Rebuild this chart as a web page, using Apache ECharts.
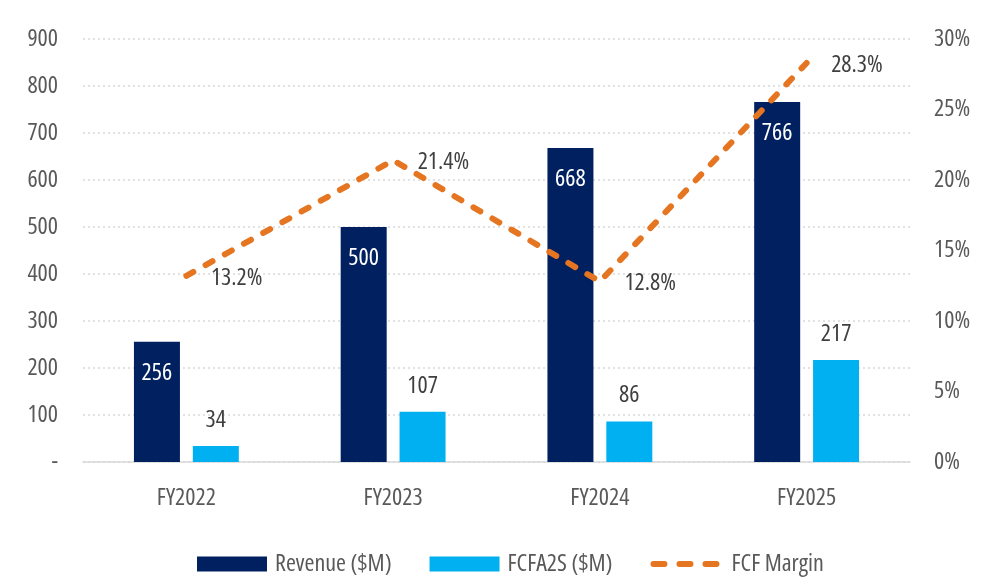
<!DOCTYPE html>
<html>
<head>
<meta charset="utf-8">
<script src="https://cdn.jsdelivr.net/npm/echarts@6/dist/echarts.min.js"></script>
<style>
  html, body { margin: 0; padding: 0; background: #fff; }
  #chart { width: 1000px; height: 588px; }
</style>
</head>
<body>
<div id="chart"></div>
<script>
(function () {
  const categories = ['FY2022', 'FY2023', 'FY2024', 'FY2025'];
  const revenue = [256, 500, 668, 766];
  const fcfa2s = [34, 107, 86, 217];
  const fcfMargin = [13.2, 21.4, 12.8, 28.3];

  // condensed face of Open Sans, close to the original's narrow type
  const font = '"Open Sans", "Noto Sans", sans-serif';
  const stretch = 'condensed';
  const textColor = '#595959';
  const labelColor = '#404040';
  const gridColor = '#d9d9d9';
  const navy = '#002060';
  const sky = '#00b0f0';
  const orange = '#e57520';

  const txt = (size, color) => ({
    color,
    fontSize: size,
    fontFamily: font,
    fontStyle: stretch,
  });

  const chart = echarts.init(document.getElementById('chart'));

  chart.setOption({
    animation: false,
    textStyle: { fontFamily: font, fontStyle: stretch },
    grid: { left: 83, right: 90, top: 39, bottom: 126 },
    legend: {
      top: 547,
      left: 192,
      itemWidth: 70,
      itemHeight: 15,
      itemGap: 38,
      textStyle: Object.assign(txt(24, textColor), { padding: [0, 0, 0, 3] }),
      data: [
        { name: 'Revenue ($M)', icon: 'rect' },
        { name: 'FCFA2S ($M)', icon: 'rect' },
        {
          name: 'FCF Margin',
          itemStyle: { opacity: 0 },
          lineStyle: { type: [11, 15], width: 6, cap: 'round', color: orange },
        },
      ],
    },
    xAxis: {
      type: 'category',
      data: categories,
      axisTick: { show: false },
      axisLine: { lineStyle: { color: gridColor, width: 1.5 } },
      axisLabel: Object.assign(txt(24, textColor), { margin: 24 }),
    },
    yAxis: [
      {
        type: 'value',
        min: 0,
        max: 900,
        interval: 100,
        axisLine: { show: false },
        axisTick: { show: false },
        splitLine: { lineStyle: { color: gridColor, type: [2, 3], width: 1.5 } },
        axisLabel: Object.assign(txt(24, textColor), {
          margin: 25,
          formatter: (v) => (v === 0 ? '-' : String(v)),
        }),
      },
      {
        type: 'value',
        min: 0,
        max: 30,
        interval: 5,
        axisLine: { show: false },
        axisTick: { show: false },
        splitLine: { show: false },
        axisLabel: Object.assign(txt(24, textColor), {
          margin: 24,
          formatter: (v) => v + '%',
        }),
      },
    ],
    series: [
      {
        name: 'Revenue ($M)',
        type: 'bar',
        data: revenue,
        barWidth: 46,
        barGap: '28%',
        itemStyle: { color: navy },
        label: Object.assign(txt(24, '#fff'), {
          show: true,
          position: 'insideTop',
          distance: 19,
        }),
        z: 2,
      },
      {
        name: 'FCFA2S ($M)',
        type: 'bar',
        data: fcfa2s,
        barWidth: 46,
        itemStyle: { color: sky },
        label: Object.assign(txt(24, labelColor), {
          show: true,
          position: 'top',
          distance: 14,
        }),
        z: 2,
      },
      {
        name: 'FCF Margin',
        type: 'line',
        yAxisIndex: 1,
        data: fcfMargin,
        symbol: 'none',
        lineStyle: { color: orange, width: 6, type: [8, 14], cap: 'round' },
        itemStyle: { color: orange },
        z: 5,
      },
      {
        // carries the margin labels only
        name: 'FCF Margin labels',
        type: 'scatter',
        yAxisIndex: 1,
        data: fcfMargin,
        symbolSize: 1,
        itemStyle: { color: 'rgba(0,0,0,0)', opacity: 1 },
        silent: true,
        label: Object.assign(txt(24, labelColor), {
          show: true,
          position: 'right',
          distance: 24,
          offset: [0, 2],
          formatter: (p) => p.value.toFixed(1) + '%',
        }),
        z: 6,
      },
    ],
  });
})();
</script>
</body>
</html>
